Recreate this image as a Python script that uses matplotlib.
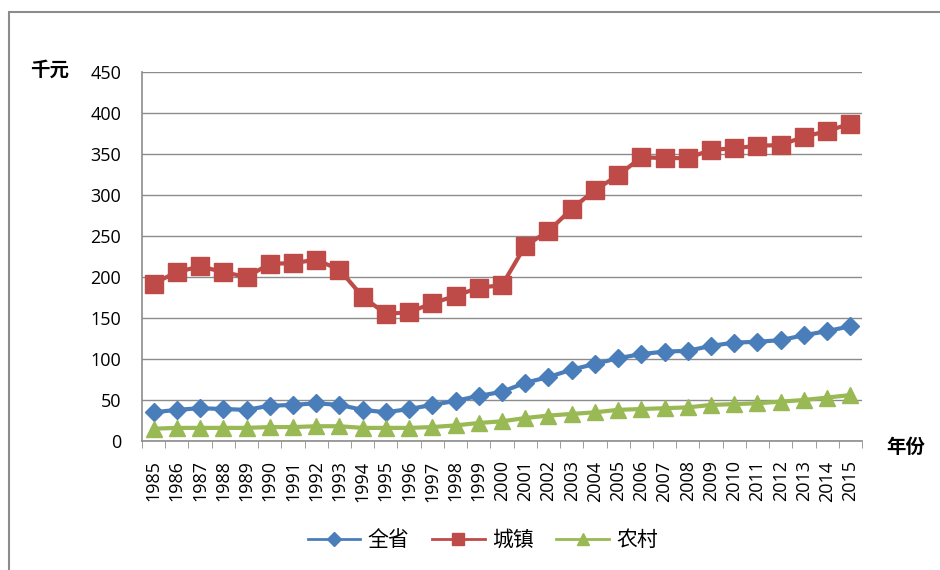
import matplotlib.pyplot as plt
import numpy as np
from matplotlib.patches import Rectangle

plt.rcParams['font.family'] = ['Open Sans', 'Noto Sans CJK SC', 'DejaVu Sans']

# --- Data ---
years = list(range(1985, 2016))
province = [35, 38, 40, 39, 38, 43, 44, 46, 44, 38, 35, 39, 44, 49, 55, 60,
            71, 78, 87, 94, 101, 106, 109, 110, 116, 120, 121, 123, 129, 134, 140]
urban = [192, 206, 213, 206, 200, 216, 217, 221, 209, 176, 155, 157, 168, 177, 187, 190,
         238, 256, 283, 306, 324, 346, 345, 345, 355, 357, 360, 361, 371, 378, 387]
rural = [15, 16, 16, 16, 16, 17, 17, 18, 18, 16, 16, 16, 17, 19, 22, 24,
         28, 31, 33, 35, 38, 39, 40, 41, 44, 45, 46, 48, 50, 53, 56]
series_names = ['全省', '城镇', '农村']

# --- Figure ---
fig = plt.figure(figsize=(9.4, 5.7), dpi=100)
fig.patches.append(Rectangle((9 / 940, -0.1), 1.1, 1 - 12 / 570 + 0.1,
                             transform=fig.transFigure, fill=False,
                             edgecolor='#8c8c8c', linewidth=1.5))
ax = fig.add_axes([142 / 940, 1 - 441 / 570, 720 / 940, 369 / 570])

x = np.arange(len(years))
ax.plot(x, province, color='#4A7EBB', linewidth=3, marker='D', markersize=9.5,
        label=series_names[0], zorder=3)
ax.plot(x, urban, color='#BE4B48', linewidth=3, marker='s', markersize=13,
        label=series_names[1], zorder=3)
ax.plot(x, rural, color='#98B954', linewidth=3, marker='^', markersize=11.5,
        label=series_names[2], zorder=3)

# --- Axes formatting ---
ax.set_xlim(-0.5, len(years) - 0.5)
ax.set_ylim(0, 450)
ax.set_yticks(np.arange(0, 451, 50))
ax.set_xticks(x)
ax.set_xticklabels([str(y) for y in years], rotation=90, fontsize=13)
ax.set_xticks(np.arange(-0.5, len(years), 1), minor=True)
ax.tick_params(axis='x', which='major', length=0, pad=14)
ax.tick_params(axis='x', which='minor', length=5, color='#8c8c8c', direction='out')
ax.tick_params(axis='y', length=0, labelsize=13, pad=15)
ax.grid(axis='y', color='#8c8c8c', linewidth=1)
ax.set_axisbelow(True)
for side in ['top', 'right']:
    ax.spines[side].set_visible(False)
for side in ['left', 'bottom']:
    ax.spines[side].set_color('#8c8c8c')
    ax.spines[side].set_linewidth(1.2)

fig.text(50 / 940, 1 - 70 / 570, '千元', fontsize=14, fontweight='bold',
         family=['Noto Sans CJK SC'], ha='center', va='center')
fig.text(906 / 940, 1 - 447 / 570, '年份', fontsize=14, fontweight='bold',
         family=['Noto Sans CJK SC'], ha='center', va='center')

leg = fig.legend(loc='center', bbox_to_anchor=(483 / 940, 1 - 540 / 570), ncol=3,
                 frameon=False, prop={'family': 'Noto Sans CJK SC', 'size': 15},
                 markerscale=0.7, handlelength=2.5, handletextpad=0.35,
                 columnspacing=1.1)
for h in leg.legend_handles:
    h.set_linewidth(2)

plt.savefig('out.png', dpi=100)
